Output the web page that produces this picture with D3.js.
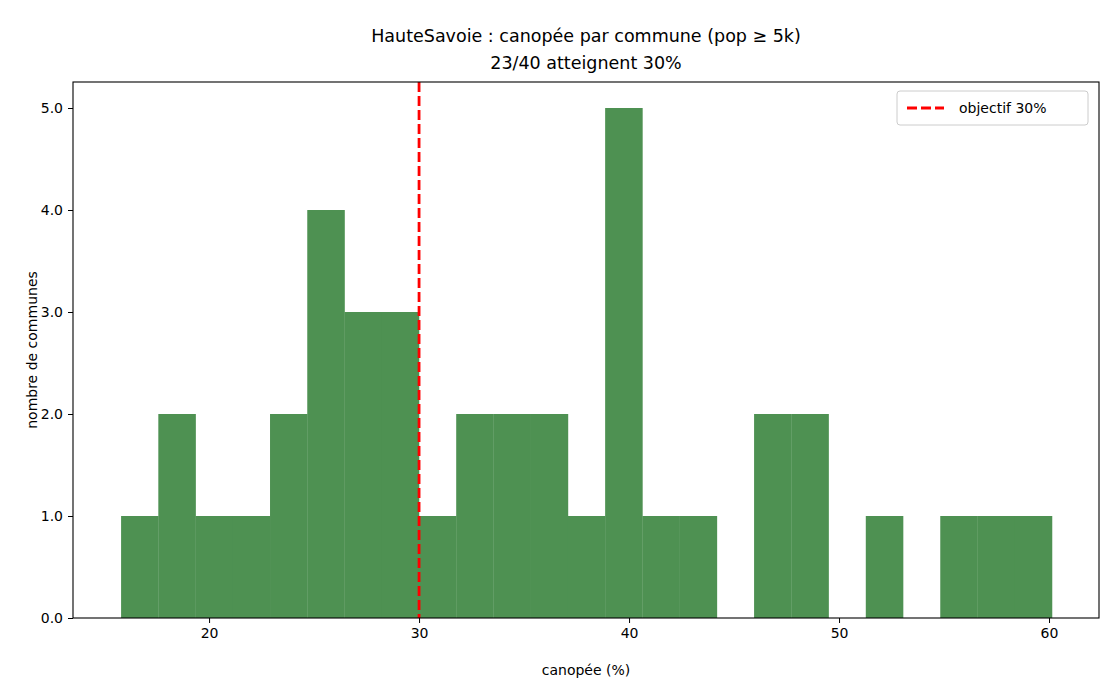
<!DOCTYPE html>
<html><head><meta charset="utf-8">
<script src="https://cdn.jsdelivr.net/npm/d3@7"></script>
<style>body{margin:0;background:#fff}text{font-family:"DejaVu Sans",sans-serif;fill:#000}</style>
</head><body><svg width="1120" height="700"></svg>
<script>
const counts = [1,2,1,1,2,4,3,3,1,2,2,2,1,5,1,1,0,2,2,0,1,0,1,1,1];
const binLo = 15.81, binHi = 60.14;
const target = 30;
const xTicks = [20,30,40,50,60];
const yTicks = [0,1,2,3,4,5];

const svg = d3.select("svg");
const m = { left: 73, right: 1099, top: 82, bottom: 618 };
const x = d3.scaleLinear().domain([13.52, 62.38]).range([m.left, m.right]);
const y = d3.scaleLinear().domain([0, 5.255]).range([m.bottom, m.top]);
const bw = (binHi - binLo) / counts.length;

svg.append("g").selectAll("rect").data(counts).join("rect")
  .attr("x", (d, i) => x(binLo + i * bw))
  .attr("width", (d, i) => x(binLo + (i + 1) * bw) - x(binLo + i * bw) + 0.3)
  .attr("y", d => y(d)).attr("height", d => y(0) - y(d))
  .attr("fill", "#4e9152");

svg.append("line").attr("x1", x(target)).attr("x2", x(target))
  .attr("y1", m.top).attr("y2", m.bottom)
  .attr("stroke", "red").attr("stroke-width", 2.8).attr("stroke-dasharray", "10,4");

svg.append("rect").attr("x", m.left).attr("y", m.top)
  .attr("width", m.right - m.left).attr("height", m.bottom - m.top)
  .attr("fill", "none").attr("stroke", "#000").attr("stroke-width", 1.1);

const gx = svg.append("g").attr("transform", `translate(0,${m.bottom})`)
  .call(d3.axisBottom(x).tickValues(xTicks).tickSize(5).tickPadding(5));
const gy = svg.append("g").attr("transform", `translate(${m.left},0)`)
  .call(d3.axisLeft(y).tickValues(yTicks).tickSize(5).tickPadding(5));
[gx, gy].forEach(g => {
  g.select(".domain").remove();
  g.selectAll("text").attr("font-size", 14).attr("font-family", "DejaVu Sans");
});

svg.append("text").attr("x", 586).attr("y", 675).attr("text-anchor", "middle")
  .attr("font-size", 14).text("canopée (%)");
svg.append("text").attr("transform", "translate(37,350) rotate(-90)")
  .attr("text-anchor", "middle").attr("font-size", 14).text("nombre de communes");
svg.append("text").attr("x", 586).attr("y", 42).attr("text-anchor", "middle")
  .attr("font-size", 17.5).text("HauteSavoie : canopée par commune (pop ≥ 5k)");
svg.append("text").attr("x", 586).attr("y", 69).attr("text-anchor", "middle")
  .attr("font-size", 17.5).text("23/40 atteignent 30%");

const lg = svg.append("g").attr("transform", "translate(897,91)");
lg.append("rect").attr("width", 191).attr("height", 34).attr("rx", 3)
  .attr("fill", "#fff").attr("stroke", "#ccc");
lg.append("line").attr("x1", 10).attr("x2", 47).attr("y1", 17).attr("y2", 17)
  .attr("stroke", "red").attr("stroke-width", 2.8).attr("stroke-dasharray", "10,4");
lg.append("text").attr("x", 62).attr("y", 22).attr("font-size", 14).text("objectif 30%");
</script></body></html>
